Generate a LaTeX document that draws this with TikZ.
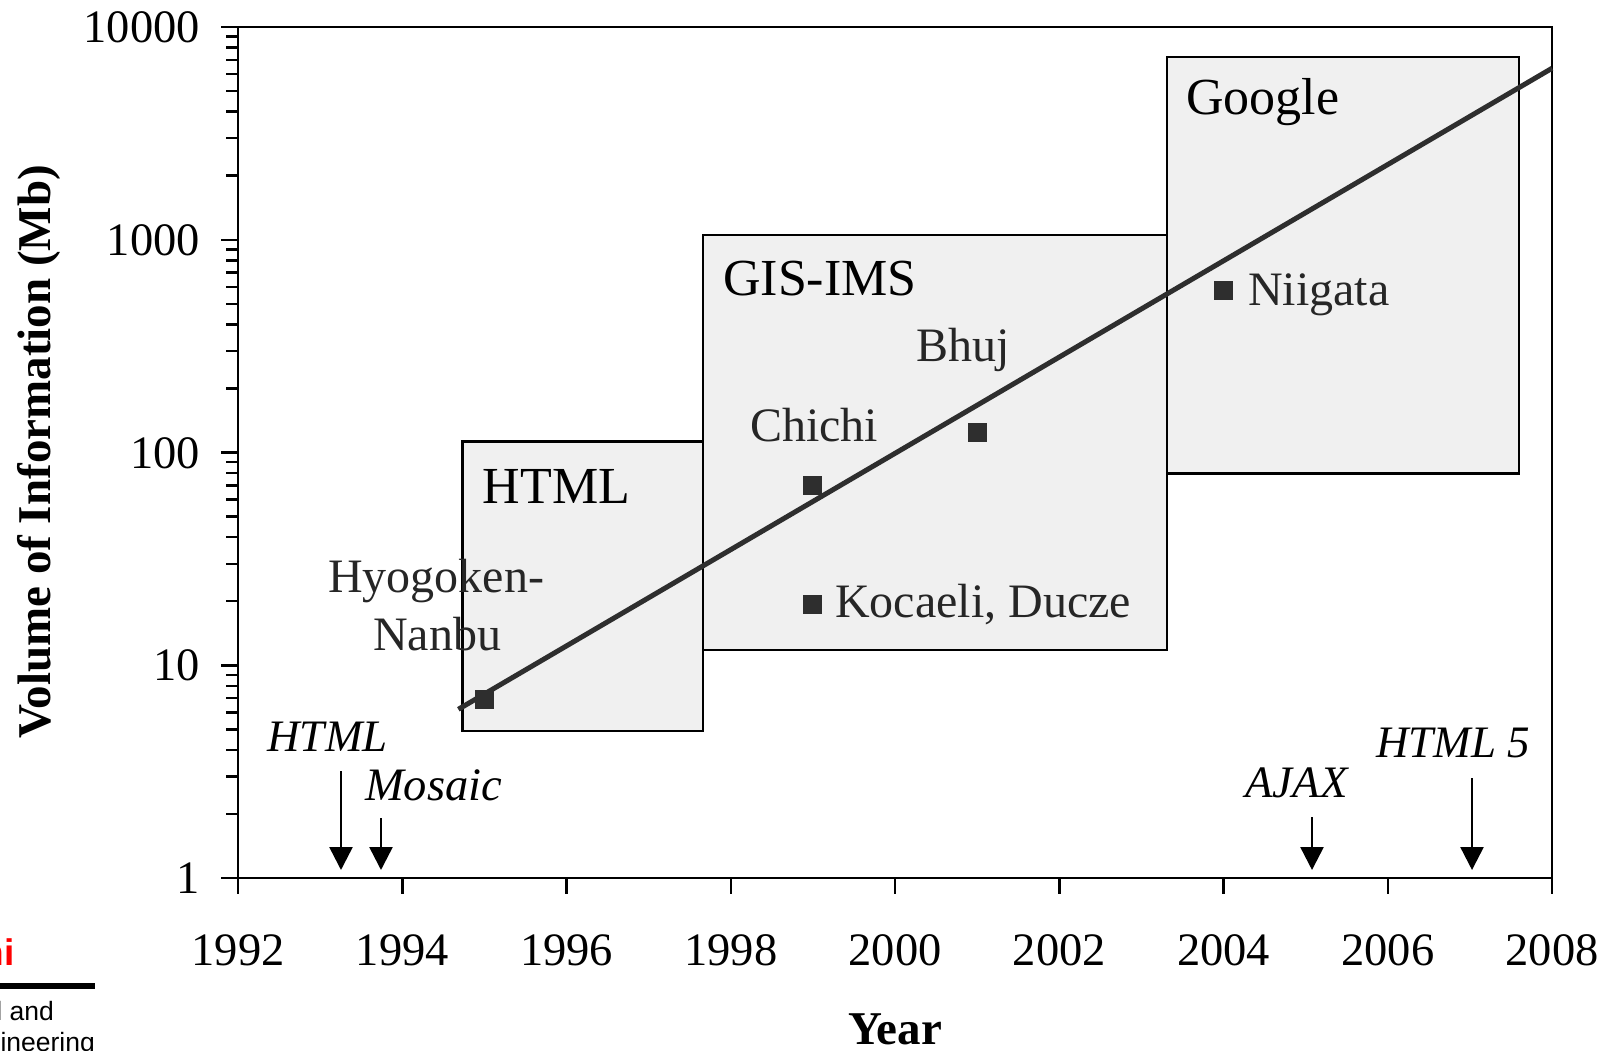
\documentclass[tikz,border=0pt]{standalone}
\usepackage{fontspec}
\setmainfont{Liberation Serif}
\newfontfamily\arialfont{Liberation Sans}
\usetikzlibrary{arrows.meta}
\begin{document}
\begin{tikzpicture}[x=1pt,y=-1pt,
  boxfill/.style={draw=black, line width=2.5pt, fill=black!6},
  marker/.style={fill=black!82, minimum size=19pt, inner sep=0pt, draw=none},
  trend/.style={draw=black!82, line width=5pt},
  evt/.style={font=\fontsize{48}{57}\selectfont, text=black!85, inner sep=0pt},
  era/.style={font=\fontsize{52}{60}\selectfont, inner sep=0pt},
  tech/.style={font=\fontsize{45}{54}\selectfont\itshape, inner sep=0pt},
  ticklab/.style={font=\fontsize{46.5}{55}\selectfont, inner sep=0pt},
  axislab/.style={font=\fontsize{47}{56}\selectfont\bfseries, inner sep=0pt},
  pointer/.style={line width=2.5pt, -{Triangle[width=23pt,length=23pt]}},
  tickline/.style={line width=2.5pt},
]
\useasboundingbox (0,0) rectangle (1621,1051);

% ---------- data area ----------
\begin{scope}[xshift=238pt,yshift=-878pt,x=82.125pt,y=212.75pt]
  % era boxes
  \draw[boxfill] (2.736,0.692) rectangle (5.662,2.051);
  \draw[boxfill] (5.662,1.072) rectangle (11.312,3.022);
  \draw[boxfill] (11.312,1.901) rectangle (15.598,3.858);
  % frame
  \draw[line width=2.8pt] (0,0) rectangle (16,4);
  % y ticks
  \foreach \d in {0,...,4} \draw[tickline] (0,\d) -- ++(-17pt,0);
  \foreach \d in {0,...,3}
    \foreach \k in {2,...,9}
      \draw[tickline] (0,{\d+ln(\k)/2.302585}) -- ++(-12pt,0);
  % x ticks
  \foreach \i in {0,2,...,16} \draw[tickline] (\i,0) -- ++(0,-16pt);
  % x tick labels
  \foreach \i in {0,2,...,16}
    \path (\i,0) ++(0,-87pt) node[ticklab,anchor=base] (xl\i) {\the\numexpr1992+\i\relax};
  % y tick labels
  \foreach \d/\t in {0/1,1/10,2/100,3/1000,4/10000}
    \path (0,\d) ++(-38pt,-15.7pt) node[ticklab,anchor=base east] (yl\d) {\t};
  % trend line
  \coordinate (t0) at (2.683,0.793);
  \coordinate (t1) at (16,3.806);
  \draw[trend] (t0) -- (t1);
  % markers
  \node[marker] (mHyogo) at (3,0.841) {};
  \node[marker] (mChichi) at (7,1.843) {};
  \node[marker] (mKocaeli) at (7,1.284) {};
  \node[marker] (mBhuj) at (9,2.096) {};
  \node[marker] (mNiigata) at (12,2.761) {};
\end{scope}

% ---------- era labels ----------
\node[era,anchor=base west] (eHTML) at (482.7,503) {HTML};
\node[era,anchor=base west] (eGIS) at (723,295) {GIS-IMS};
\node[era,anchor=base west] (eGoogle) at (1186,115) {Google};

% ---------- event labels ----------
\node[evt,anchor=base west] (lHyogo1) at (328,592.7) {Hyogoken-};
\node[evt,anchor=base west] (lHyogo2) at (373,650) {Nanbu};
\node[evt,anchor=base west] (lChichi) at (750,441.7) {Chichi};
\node[evt,anchor=base west] (lBhuj) at (916,361.7) {Bhuj};
\node[evt,anchor=base west] (lKocaeli) at (835,617.3) {Kocaeli, Ducze};
\node[evt,anchor=base west] (lNiigata) at (1248,305) {Niigata};

% ---------- technology labels and arrows ----------
\node[tech,anchor=base west] (tHTML) at (267.3,751) {HTML};
\node[tech,anchor=base west,font=\fontsize{46.5}{54}\selectfont\itshape] (tMosaic) at (365,800) {Mosaic};
\node[tech,anchor=base west] (tAJAX) at (1245,797.7) {AJAX};
\node[tech,anchor=base west] (tHTML5) at (1376,757.3) {HTML 5};
\coordinate (aHTMLs) at (341,771);   \coordinate (aHTMLe) at (341,870);
\coordinate (aMosaics) at (381,818); \coordinate (aMosaice) at (381,870);
\coordinate (aAJAXs) at (1312,817);  \coordinate (aAJAXe) at (1312,870);
\coordinate (aHTML5s) at (1472,778); \coordinate (aHTML5e) at (1472,870);
\draw[pointer] (aHTMLs) -- (aHTMLe);
\draw[pointer] (aMosaics) -- (aMosaice);
\draw[pointer] (aAJAXs) -- (aAJAXe);
\draw[pointer] (aHTML5s) -- (aHTML5e);

% ---------- axis titles ----------
\node[axislab,anchor=base] (xtitle) at (895,1044) {Year};
\node[axislab,anchor=base,rotate=90] (ytitle) at (50.6,452) {Volume of Information (Mb)};

% ---------- fragment at bottom left ----------
\node[anchor=base east,inner sep=0pt,text=red,font=\arialfont\bfseries\fontsize{37}{44}\selectfont] (frag1) at (15,965) {hi};
\coordinate (fl0) at (0,986); \coordinate (fl1) at (95,986);
\draw[line width=5.5pt] (fl0) -- (fl1);
\node[anchor=base east,inner sep=0pt,font=\arialfont\fontsize{26.5}{32}\selectfont] (frag2) at (54,1020.7) {l and};
\node[anchor=base east,inner sep=0pt,font=\arialfont\fontsize{26.5}{32}\selectfont] (frag3) at (95,1051) {ineering};
\end{tikzpicture}
\end{document}
